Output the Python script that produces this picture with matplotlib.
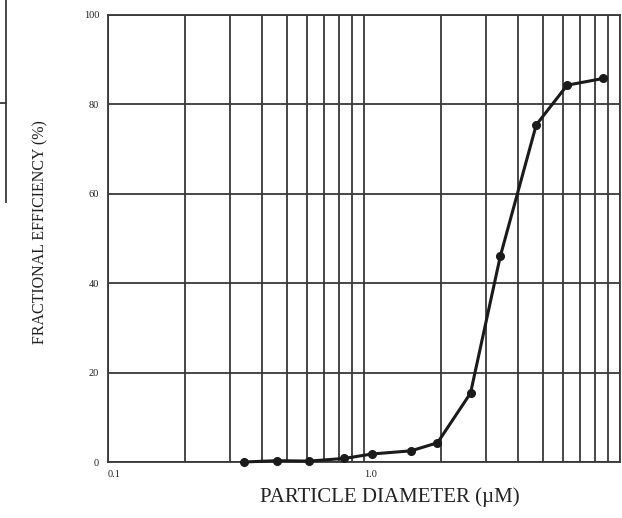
import matplotlib.pyplot as plt
from matplotlib.lines import Line2D
from matplotlib.ticker import FixedLocator, NullFormatter

# particle size (um) and fractional efficiency (%)
diameter = [0.34, 0.46, 0.61, 0.84, 1.08, 1.53, 1.94, 2.61, 3.41, 4.71, 6.22, 8.59]
efficiency = [0.0, 0.3, 0.2, 0.8, 1.8, 2.5, 4.3, 15.4, 46.0, 75.4, 84.3, 85.8]

x_major = [0.1, 1.0, 10]
x_major_labels = ['0.1', '1.0', '10']
y_ticks = [0, 20, 40, 60, 80, 100]

W, H = 622, 518
fig = plt.figure(figsize=(W / 100, H / 100), dpi=100)
ax = fig.add_axes([107.5 / W, (H - 462) / H, (620 - 107.5) / W, (462 - 15) / H])

grid_col = '#383838'
ax.set_xscale('log')
ax.set_xlim(0.1, 10)
ax.set_ylim(0, 100)

minor = [m * 10.0 ** e for e in (-1, 0) for m in range(2, 10)]
ax.xaxis.set_major_locator(FixedLocator(x_major))
ax.xaxis.set_minor_locator(FixedLocator(minor))
ax.xaxis.set_minor_formatter(NullFormatter())
ax.set_xticks(x_major)
ax.set_xticklabels(x_major_labels)
ax.set_yticks(y_ticks)
ax.set_yticklabels([str(v) for v in y_ticks])

ax.grid(True, which='both', axis='x', color=grid_col, linewidth=1.3)
ax.grid(True, which='major', axis='y', color=grid_col, linewidth=1.3)
ax.tick_params(which='both', length=0, labelsize=7.5, pad=6, colors='#222222')
for lbl in ax.get_xticklabels():
    lbl.set_horizontalalignment('left')
for s in ax.spines.values():
    s.set_color(grid_col)
    s.set_linewidth(1.3)

ax.plot(diameter, efficiency, color='#1a1a1a', linewidth=2.2, marker='o',
        markersize=5.5, clip_on=False, zorder=5)

serif = ['Liberation Serif', 'DejaVu Serif']
for lbl in ax.get_xticklabels() + ax.get_yticklabels():
    lbl.set_family(serif)

fig.text(390 / W, 1 - 497 / H, 'PARTICLE DIAMETER (\u00b5M)', ha='center', va='center',
         fontsize=15, family=serif, color='#222222')
fig.text(40 / W, 1 - 232 / H, 'FRACTIONAL EFFICIENCY (%)', ha='center', va='center',
         rotation=90, fontsize=11.5, family=serif, color='#222222')

# fragment of a neighbouring box at the top-left corner
fig.add_artist(Line2D([5.5 / W, 5.5 / W], [1, 1 - 202 / H], transform=fig.transFigure,
                      color=grid_col, linewidth=1.3))
fig.add_artist(Line2D([0, 5.5 / W], [1 - 103 / H, 1 - 103 / H], transform=fig.transFigure,
                      color=grid_col, linewidth=1.3))

fig.savefig('out.png', dpi=100)
